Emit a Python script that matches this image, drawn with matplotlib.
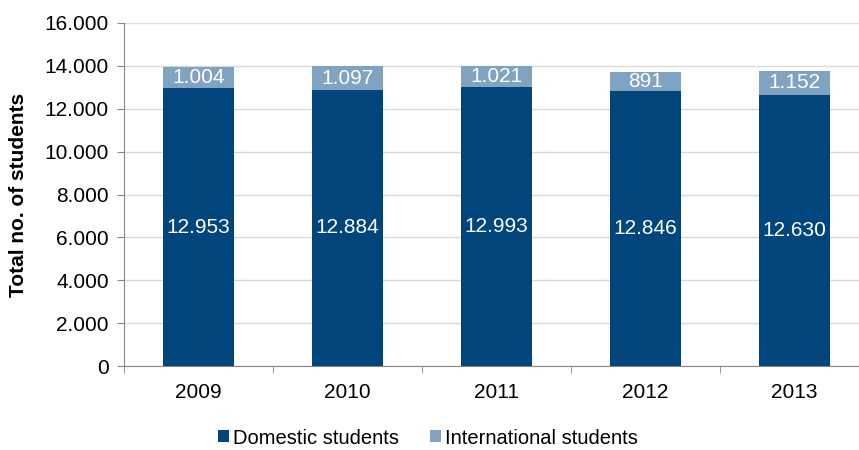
import numpy as np
import matplotlib.pyplot as plt

plt.rcParams['font.family'] = ['Liberation Sans', 'DejaVu Sans']

years = ['2009', '2010', '2011', '2012', '2013']
domestic = [12953, 12884, 12993, 12846, 12630]
international = [1004, 1097, 1021, 891, 1152]

dark = '#00457C'
light = '#7FA3C0'

def fmt(v):
    return f'{v:,}'.replace(',', '.')

fig = plt.figure(figsize=(8.59, 4.5), dpi=100)
ax = fig.add_axes([124/859, 84/450, 745/859, 343/450])

x = np.arange(len(years))
w = 0.48
b1 = ax.bar(x, domestic, w, color=dark, label='Domestic students', zorder=3)
b2 = ax.bar(x, international, w, bottom=domestic, color=light,
            label='International students', zorder=3)

for i in range(len(years)):
    ax.text(x[i], domestic[i] / 2, fmt(domestic[i]), ha='center', va='center',
            color='white', fontsize=15, zorder=4)
    ax.text(x[i], domestic[i] + international[i] / 2, fmt(international[i]),
            ha='center', va='center', color='white', fontsize=15, zorder=4)

ax.set_ylim(0, 16000)
ax.set_xlim(-0.5, 4.5)
yt = np.arange(0, 16001, 2000)
ax.set_yticks(yt)
ax.set_yticklabels([fmt(v) for v in yt], fontsize=15)
ax.set_xticks(x)
ax.set_xticklabels(years, fontsize=15)
ax.set_xticks(np.arange(-0.5, 4.6, 1), minor=True)
ax.tick_params(axis='x', which='major', length=0, pad=12)
ax.tick_params(axis='x', which='minor', length=5, color='#888888')
ax.tick_params(axis='y', length=5, color='#888888', pad=6)
ax.grid(axis='y', color='#D9D9D9', linewidth=1, zorder=0)

for s in ['top', 'right']:
    ax.spines[s].set_visible(False)
ax.spines['left'].set_color('#888888')
ax.spines['bottom'].set_color('#888888')

ax.set_ylabel('Total no. of students', fontsize=15, fontweight='bold', labelpad=12)

fig.legend(handles=[b1, b2], loc='center', bbox_to_anchor=(428/859, 12/450),
           ncol=2, frameon=False, fontsize=14.5, handlelength=0.55, handleheight=0.55,
           handletextpad=0.2, columnspacing=1.5, borderpad=0.1)

fig.savefig('out.png', dpi=100)
